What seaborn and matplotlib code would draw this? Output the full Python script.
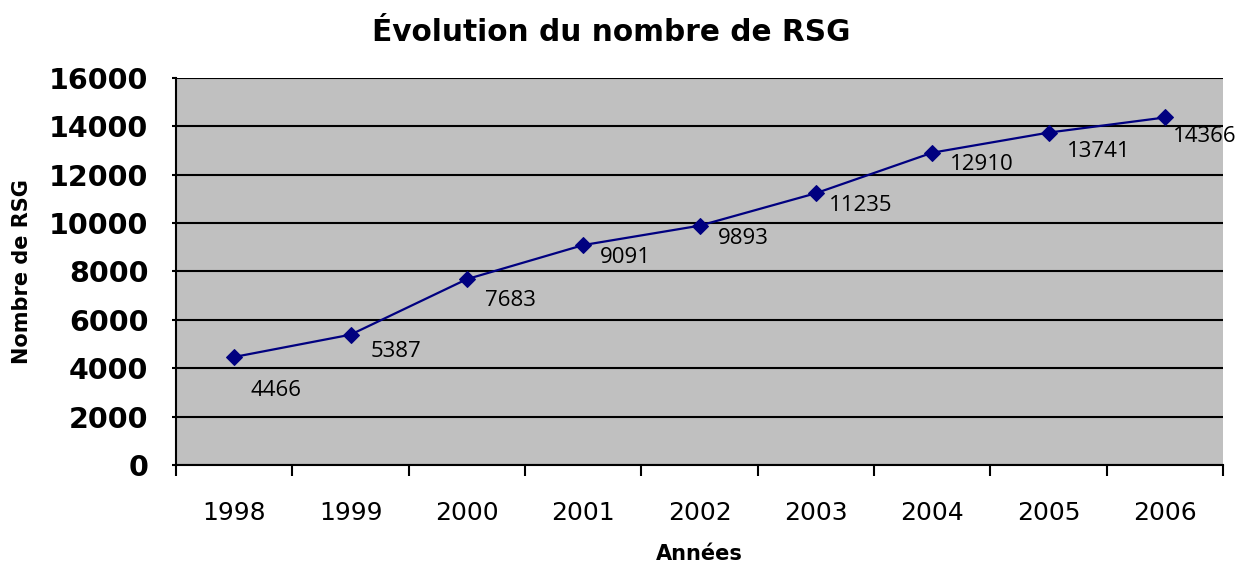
import pandas as pd
import matplotlib.pyplot as plt
import seaborn as sns

# données
annees = ['1998', '1999', '2000', '2001', '2002', '2003', '2004', '2005', '2006']
nb_rsg = [4466, 5387, 7683, 9091, 9893, 11235, 12910, 13741, 14366]
y_ticks = [0, 2000, 4000, 6000, 8000, 10000, 12000, 14000, 16000]

# décalage des étiquettes (pixels) par rapport au point
lab_dx = [16, 20, 18, 17, 18, 13, 18, 18, 8]
lab_dy = [34, 17, 21, 12, 13, 12, 12, 19, 19]

df = pd.DataFrame({'annee': annees, 'rsg': nb_rsg})

sns.set_style("white")
plt.rcParams['font.family'] = ['DejaVu Sans']
plt.rcParams['text.color'] = 'black'
plt.rcParams['axes.labelcolor'] = 'black'
plt.rcParams['xtick.color'] = 'black'
plt.rcParams['ytick.color'] = 'black'

fig = plt.figure(figsize=(12.38, 5.65), dpi=100)
ax = fig.add_axes([0.1422, 0.177, 0.8457, 0.685])
ax.set_facecolor('#C0C0C0')

sns.lineplot(data=df, x='annee', y='rsg', ax=ax, color='#000080',
             marker='D', markersize=8, markeredgecolor='#000080',
             linewidth=1.6, sort=False, zorder=5)

# étiquettes des valeurs
for i, v in enumerate(nb_rsg):
    ax.annotate(str(v), (i, v), xytext=(lab_dx[i], -lab_dy[i]),
                textcoords='offset pixels', ha='left', va='center',
                fontsize=16, family='Open Sans', color='black', zorder=6,
                annotation_clip=False)

ax.set_xlim(-0.5, len(annees) - 0.5)
ax.set_ylim(0, 16000)
ax.set_yticks(y_ticks)
ax.set_yticklabels([str(t) for t in y_ticks], fontsize=20.5, fontweight='bold')
ax.yaxis.grid(True, color='black', linewidth=1.5)
ax.set_axisbelow(True)

ax.set_xticks(range(len(annees)))
ax.set_xticklabels(annees, fontsize=18)
ax.set_xticks([i - 0.5 for i in range(len(annees) + 1)], minor=True)
ax.tick_params(axis='x', which='major', length=0, pad=26)
ax.tick_params(axis='x', which='minor', length=8, width=1.5, color='black',
               direction='out', bottom=True)
ax.tick_params(axis='y', length=3, width=1.5, color='black', left=True, pad=17)

for s in ['top', 'right']:
    ax.spines[s].set_visible(False)
for s in ['left', 'bottom']:
    ax.spines[s].set_color('black')
    ax.spines[s].set_linewidth(1.5)

ax.set_xlabel('Années', fontsize=15, fontweight='bold')
ax.xaxis.label.set_va('baseline')
ax.xaxis.set_label_coords(0.5, -0.245)
ax.set_ylabel('Nombre de RSG', fontsize=15, fontweight='bold', labelpad=12)

fig.text(0.494, 0.943, 'Évolution du nombre de RSG', ha='center', va='center',
         fontsize=21.3, fontweight='bold')

fig.savefig('out.png', dpi=100)
